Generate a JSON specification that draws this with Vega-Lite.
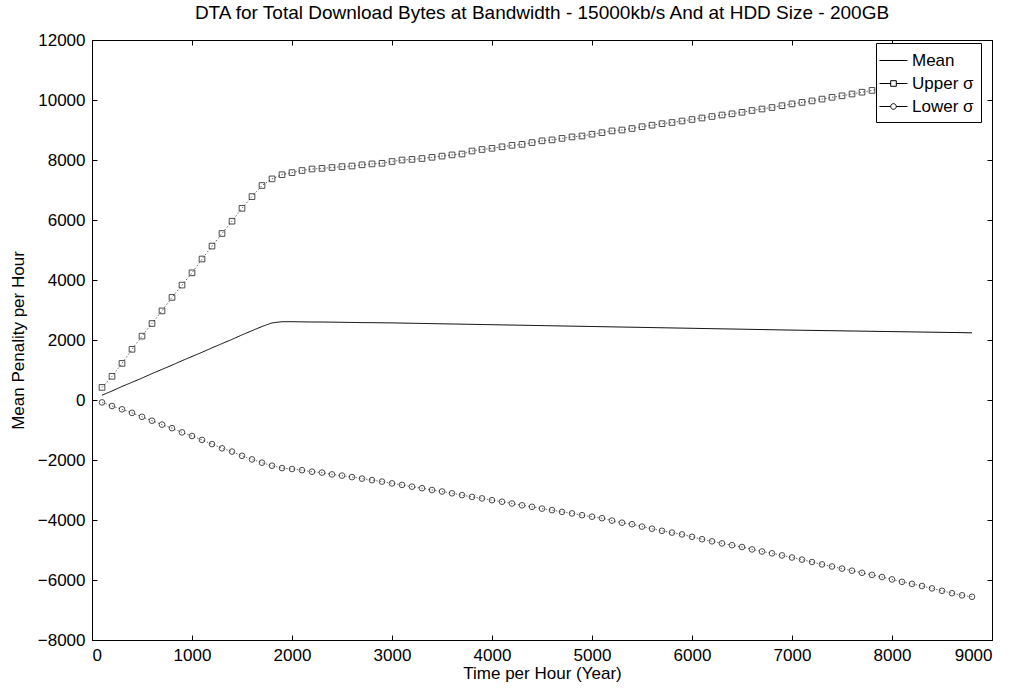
{
  "$schema": "https://vega.github.io/schema/vega-lite/v6.json",
  "autosize": {"type": "none"},
  "width": 900,
  "height": 600,
  "padding": {"left": 92, "top": 40, "right": 29, "bottom": 48},
  "background": "white",
  "title": {"text": "DTA for Total Download Bytes at Bandwidth - 15000kb/s And at HDD Size - 200GB", "font": "Liberation Sans", "fontSize": 19, "fontWeight": "normal", "color": "black", "anchor": "middle", "offset": 8},
  "config": {
    "view": {"stroke": "black", "strokeWidth": 1},
    "axis": {"grid": false, "domainColor": "black", "tickColor": "black", "labelColor": "black", "titleColor": "black", "labelFont": "Liberation Sans", "titleFont": "Liberation Sans", "labelFontSize": 17, "titleFontSize": 17, "titleFontWeight": "normal", "tickSize": -5, "labelPadding": 12}
  },
  "data": {"values": [
    {"t":100,"mean":160,"upper":420,"lower":-80},
    {"t":200,"mean":300,"upper":790,"lower":-200},
    {"t":300,"mean":450,"upper":1220,"lower":-310},
    {"t":400,"mean":590,"upper":1690,"lower":-430},
    {"t":500,"mean":730,"upper":2130,"lower":-560},
    {"t":600,"mean":880,"upper":2550,"lower":-690},
    {"t":700,"mean":1020,"upper":2970,"lower":-820},
    {"t":800,"mean":1160,"upper":3420,"lower":-940},
    {"t":900,"mean":1310,"upper":3830,"lower":-1080},
    {"t":1000,"mean":1450,"upper":4240,"lower":-1200},
    {"t":1100,"mean":1590,"upper":4700,"lower":-1330},
    {"t":1200,"mean":1740,"upper":5130,"lower":-1470},
    {"t":1300,"mean":1880,"upper":5550,"lower":-1610},
    {"t":1400,"mean":2020,"upper":5960,"lower":-1720},
    {"t":1500,"mean":2170,"upper":6390,"lower":-1860},
    {"t":1600,"mean":2310,"upper":6780,"lower":-1980},
    {"t":1700,"mean":2450,"upper":7150,"lower":-2090},
    {"t":1800,"mean":2570,"upper":7370,"lower":-2190},
    {"t":1900,"mean":2610,"upper":7510,"lower":-2270},
    {"t":2000,"mean":2610,"upper":7580,"lower":-2300},
    {"t":2100,"mean":2605,"upper":7650,"lower":-2340},
    {"t":2200,"mean":2600,"upper":7700,"lower":-2390},
    {"t":2300,"mean":2600,"upper":7720,"lower":-2420},
    {"t":2400,"mean":2595,"upper":7750,"lower":-2480},
    {"t":2500,"mean":2590,"upper":7780,"lower":-2520},
    {"t":2600,"mean":2585,"upper":7800,"lower":-2570},
    {"t":2700,"mean":2580,"upper":7840,"lower":-2620},
    {"t":2800,"mean":2578,"upper":7870,"lower":-2670},
    {"t":2900,"mean":2574,"upper":7890,"lower":-2720},
    {"t":3000,"mean":2570,"upper":7950,"lower":-2780},
    {"t":3100,"mean":2564,"upper":8000,"lower":-2830},
    {"t":3200,"mean":2558,"upper":8020,"lower":-2890},
    {"t":3300,"mean":2552,"upper":8050,"lower":-2940},
    {"t":3400,"mean":2546,"upper":8090,"lower":-3000},
    {"t":3500,"mean":2540,"upper":8130,"lower":-3050},
    {"t":3600,"mean":2534,"upper":8170,"lower":-3110},
    {"t":3700,"mean":2528,"upper":8200,"lower":-3170},
    {"t":3800,"mean":2522,"upper":8300,"lower":-3230},
    {"t":3900,"mean":2516,"upper":8350,"lower":-3280},
    {"t":4000,"mean":2510,"upper":8390,"lower":-3340},
    {"t":4100,"mean":2504,"upper":8440,"lower":-3390},
    {"t":4200,"mean":2498,"upper":8490,"lower":-3450},
    {"t":4300,"mean":2492,"upper":8520,"lower":-3510},
    {"t":4400,"mean":2486,"upper":8580,"lower":-3560},
    {"t":4500,"mean":2480,"upper":8640,"lower":-3620},
    {"t":4600,"mean":2474,"upper":8670,"lower":-3670},
    {"t":4700,"mean":2468,"upper":8720,"lower":-3730},
    {"t":4800,"mean":2462,"upper":8770,"lower":-3780},
    {"t":4900,"mean":2456,"upper":8800,"lower":-3840},
    {"t":5000,"mean":2450,"upper":8860,"lower":-3890},
    {"t":5100,"mean":2444,"upper":8910,"lower":-3940},
    {"t":5200,"mean":2438,"upper":8970,"lower":-4020},
    {"t":5300,"mean":2432,"upper":9000,"lower":-4090},
    {"t":5400,"mean":2426,"upper":9050,"lower":-4140},
    {"t":5500,"mean":2420,"upper":9110,"lower":-4220},
    {"t":5600,"mean":2414,"upper":9160,"lower":-4290},
    {"t":5700,"mean":2408,"upper":9210,"lower":-4360},
    {"t":5800,"mean":2402,"upper":9250,"lower":-4420},
    {"t":5900,"mean":2396,"upper":9300,"lower":-4480},
    {"t":6000,"mean":2390,"upper":9350,"lower":-4560},
    {"t":6100,"mean":2384,"upper":9400,"lower":-4640},
    {"t":6200,"mean":2378,"upper":9450,"lower":-4710},
    {"t":6300,"mean":2372,"upper":9500,"lower":-4780},
    {"t":6400,"mean":2366,"upper":9540,"lower":-4840},
    {"t":6500,"mean":2360,"upper":9590,"lower":-4900},
    {"t":6600,"mean":2354,"upper":9650,"lower":-4980},
    {"t":6700,"mean":2348,"upper":9700,"lower":-5050},
    {"t":6800,"mean":2342,"upper":9750,"lower":-5110},
    {"t":6900,"mean":2336,"upper":9810,"lower":-5180},
    {"t":7000,"mean":2330,"upper":9870,"lower":-5250},
    {"t":7100,"mean":2325,"upper":9920,"lower":-5320},
    {"t":7200,"mean":2320,"upper":9970,"lower":-5400},
    {"t":7300,"mean":2315,"upper":10030,"lower":-5480},
    {"t":7400,"mean":2310,"upper":10090,"lower":-5550},
    {"t":7500,"mean":2305,"upper":10140,"lower":-5620},
    {"t":7600,"mean":2300,"upper":10200,"lower":-5690},
    {"t":7700,"mean":2295,"upper":10260,"lower":-5760},
    {"t":7800,"mean":2290,"upper":10320,"lower":-5830},
    {"t":7900,"mean":2285,"upper":10380,"lower":-5900},
    {"t":8000,"mean":2280,"upper":10440,"lower":-5980},
    {"t":8100,"mean":2275,"upper":10500,"lower":-6060},
    {"t":8200,"mean":2270,"upper":10560,"lower":-6130},
    {"t":8300,"mean":2265,"upper":10620,"lower":-6200},
    {"t":8400,"mean":2260,"upper":10680,"lower":-6280},
    {"t":8500,"mean":2255,"upper":10740,"lower":-6360},
    {"t":8600,"mean":2250,"upper":10800,"lower":-6440},
    {"t":8700,"mean":2245,"upper":10860,"lower":-6510},
    {"t":8800,"mean":2240,"upper":10910,"lower":-6560}
  ]},
  "transform": [{"fold": ["mean", "upper", "lower"], "as": ["series", "val"]}],
  "resolve": {"axis": {"x": "independent", "y": "independent"}, "scale": {"shape": "independent"}, "legend": {"shape": "independent"}},
  "layer": [
    {
      "mark": {"type": "line", "strokeWidth": 1, "color": "black"},
      "encoding": {
        "x": {"field": "t", "type": "quantitative", "scale": {"domain": [0, 9000], "nice": false}, "axis": {"orient": "bottom", "values": [0,1000,2000,3000,4000,5000,6000,7000,8000,9000], "title": "Time per Hour (Year)", "titlePadding": 2, "format": "d"}},
        "y": {"field": "val", "type": "quantitative", "scale": {"domain": [-8000, 12000], "nice": false}, "axis": {"orient": "left", "values": [-8000,-6000,-4000,-2000,0,2000,4000,6000,8000,10000,12000], "title": "Mean Penality per Hour", "titlePadding": 10, "format": "d"}},
        "detail": {"field": "series"},
        "strokeDash": {"field": "series", "type": "nominal", "scale": {"domain": ["mean", "upper", "lower"], "range": [[1, 0], [1.5, 2], [1.5, 2]]}, "legend": null},
        "color": {"field": "series", "type": "nominal", "scale": {"domain": ["mean", "upper", "lower"], "range": ["black", "#666666", "#666666"]}, "legend": null}
      }
    },
    {
      "transform": [{"filter": "datum.series != 'mean'"}],
      "mark": {"type": "point", "filled": false, "strokeWidth": 1, "size": 32, "color": "black"},
      "encoding": {
        "x": {"field": "t", "type": "quantitative", "axis": {"orient": "top", "values": [0,1000,2000,3000,4000,5000,6000,7000,8000,9000], "labels": false, "title": null}},
        "y": {"field": "val", "type": "quantitative", "axis": {"orient": "right", "values": [-8000,-6000,-4000,-2000,0,2000,4000,6000,8000,10000,12000], "labels": false, "title": null}},
        "shape": {"field": "series", "type": "nominal", "scale": {"domain": ["upper", "lower"], "range": ["square", "circle"]}, "legend": null}
      }
    },
    {
      "mark": {"type": "point", "filled": false, "opacity": 0, "color": "black"},
      "encoding": {
        "x": {"field": "t", "type": "quantitative", "axis": null},
        "y": {"field": "val", "type": "quantitative", "axis": null},
        "shape": {"field": "series", "type": "nominal",
          "scale": {"domain": ["mean", "upper", "lower"], "range": ["M-1.4,0H1.4", "M-1.4,0H-0.28M0.28,0H1.4M-0.28,-0.28H0.28V0.28H-0.28Z", "M-1.4,0H-0.28M0.28,0H1.4M-0.28,0A0.28,0.28,0,1,0,0.28,0A0.28,0.28,0,1,0,-0.28,0Z"]},
          "legend": {"orient": "none", "legendX": 784, "legendY": 3, "title": null, "strokeColor": "black", "fillColor": "white", "padding": 7, "symbolSize": 400, "symbolStrokeWidth": 1, "symbolStrokeColor": "black", "symbolFillColor": "transparent", "symbolOpacity": 1, "labelFont": "Liberation Sans", "labelFontSize": 17, "labelColor": "black", "labelOffset": 8, "rowPadding": 4,
            "labelExpr": "datum.value == 'mean' ? 'Mean' : datum.value == 'upper' ? 'Upper σ' : 'Lower σ'"}
        }
      }
    }
  ]
}
